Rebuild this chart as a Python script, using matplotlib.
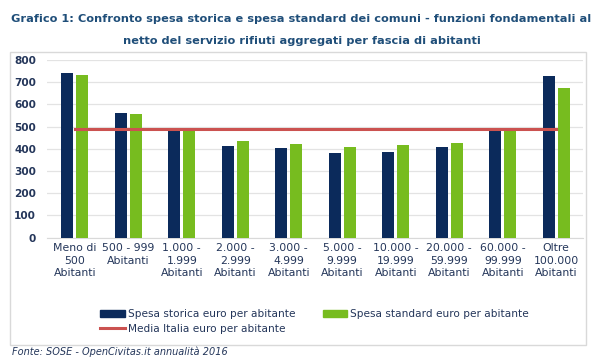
import matplotlib
matplotlib.use("Agg")
import matplotlib.pyplot as plt
import numpy as np
from matplotlib.patches import Patch, Rectangle
from matplotlib.lines import Line2D

# data
categorie = ["Meno di\n500\nAbitanti", "500 - 999\nAbitanti", "1.000 -\n1.999\nAbitanti",
             "2.000 -\n2.999\nAbitanti", "3.000 -\n4.999\nAbitanti", "5.000 -\n9.999\nAbitanti",
             "10.000 -\n19.999\nAbitanti", "20.000 -\n59.999\nAbitanti", "60.000 -\n99.999\nAbitanti",
             "Oltre\n100.000\nAbitanti"]
spesa_storica = [740, 560, 480, 412, 403, 383, 387, 410, 485, 728]
spesa_standard = [732, 556, 485, 436, 420, 407, 416, 425, 485, 673]
media_italia = [490] * len(categorie)
y_ticks = [0, 100, 200, 300, 400, 500, 600, 700, 800]

navy = "#0B2A5B"
green = "#77BC1F"
red = "#CB5250"
text_col = "#24365A"
title_col = "#1F4E79"

W, H = 603, 362
fig = plt.figure(figsize=(W / 100, H / 100), dpi=100)

# light frame around the chart
fig.patches.append(Rectangle((10 / W, 1 - 345 / H), 576 / W, 293 / H, transform=fig.transFigure,
                             fill=False, edgecolor="#D9D9D9", linewidth=1))

ax = fig.add_axes([47 / W, 1 - 237.7 / H, (583 - 47) / W, (237.7 - 60) / H])
x = np.arange(len(categorie))
w = 0.23
ax.bar(x - 0.14, spesa_storica, w, color=navy, zorder=3)
ax.bar(x + 0.14, spesa_standard, w, color=green, zorder=3)
ax.plot(x, media_italia, color=red, linewidth=2.2, zorder=4)

ax.set_xlim(-0.52, 9.5)
ax.set_ylim(0, 800)
ax.set_yticks(y_ticks)
ax.yaxis.grid(True, color="#E3E3E3", linewidth=0.9, zorder=0)
ax.set_xticks(x)
ax.set_xticklabels(categorie, fontsize=7.8, color=text_col, linespacing=1.3)
ax.tick_params(axis="x", length=0, pad=4)
ax.tick_params(axis="y", length=0, pad=8, labelsize=7.6, labelcolor=text_col)
for lab in ax.get_yticklabels():
    lab.set_fontweight("bold")
for s in ["top", "right", "left"]:
    ax.spines[s].set_visible(False)
ax.spines["bottom"].set_color("#D9D9D9")

fig.text(0.5, 1 - 19 / H, "Grafico 1: Confronto spesa storica e spesa standard dei comuni - funzioni fondamentali al",
         ha="center", va="center", fontsize=8.2, fontweight="bold", color=title_col)
fig.text(0.5, 1 - 41 / H, "netto del servizio rifiuti aggregati per fascia di abitanti",
         ha="center", va="center", fontsize=8.2, fontweight="bold", color=title_col)

handles = [Patch(color=navy), Line2D([], [], color=red, linewidth=2.2), Patch(color=green)]
labels = ["Spesa storica euro per abitante", "Media Italia euro per abitante",
          "Spesa standard euro per abitante"]
leg = fig.legend(handles, labels, ncol=2, loc="upper left", bbox_to_anchor=(95 / W, 1 - 304 / H),
                 frameon=False, fontsize=7.6, handlelength=2.3, handleheight=0.6,
                 handletextpad=0.3, columnspacing=2.6, labelspacing=0.45, borderpad=0)
for t in leg.get_texts():
    t.set_color(text_col)

fig.text(12 / W, 1 - 352 / H, "Fonte: SOSE - OpenCivitas.it annualità 2016", ha="left", va="center",
         fontsize=7, style="italic", color=text_col)

fig.savefig("out.png", dpi=100)
